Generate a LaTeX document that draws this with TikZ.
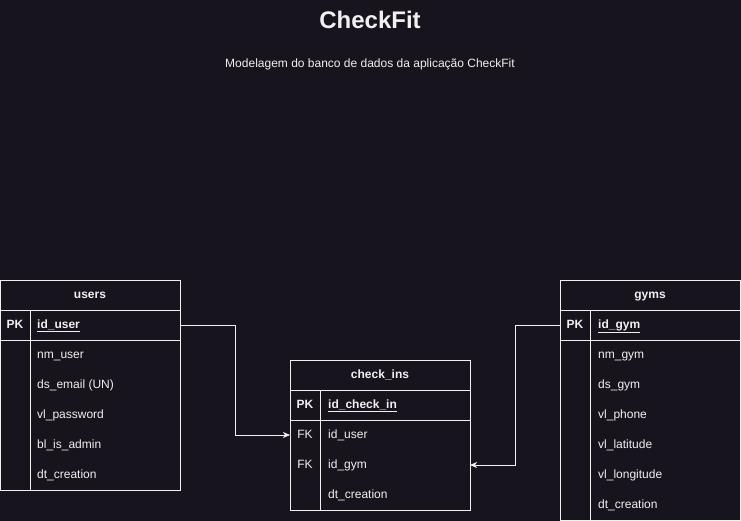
\documentclass[tikz,border=0pt]{standalone}
\usepackage{fontspec}
\setmainfont{Liberation Sans}
\usetikzlibrary{arrows.meta}
\definecolor{bg}{HTML}{18141D}
\definecolor{fg}{HTML}{F0F0F0}
\begin{document}
\begin{tikzpicture}[x=1pt,y=-1pt,
  every node/.style={text=fg, font=\fontsize{12}{14}\selectfont},
  line/.style={draw=fg, line width=1pt},
  tbl/.style={draw=fg, line width=1pt, minimum width=180pt, inner sep=0pt, outer sep=0pt, text height=8.6pt, text depth=2.4pt},
  rowbox/.style={draw=none, minimum width=180pt, minimum height=30pt, inner sep=0pt, outer sep=0pt},
  fld/.style={anchor=west, inner sep=0pt, text height=8.6pt, text depth=2.4pt},
  key/.style={inner sep=0pt, text height=8.6pt, text depth=2.4pt},
  conn/.style={draw=fg, line width=1pt, -{Stealth[length=7pt,width=6pt,inset=2pt]}}
]
\fill[bg] (0,0) rectangle (741,521);
\useasboundingbox (0,0) rectangle (741,521);

% title
\node[font=\bfseries\fontsize{24}{28}\selectfont] (title) at (370,20) {CheckFit};
\node[text height=8.6pt, text depth=2.4pt, inner sep=0pt] (subtitle) at (370,64) {Modelagem do banco de dados da aplicação CheckFit};

% users
\node[tbl, minimum height=30pt] (users-h) at (90,295) {\bfseries users};
\node[tbl, minimum height=30pt] (users-pk) at (90,325) {};
\node[tbl, minimum height=150pt] (users-b) at (90,415) {};
\draw[line] ([xshift=30pt]users-pk.north west) -- ([xshift=30pt]users-b.south west);
\node[key] (users-k) at (15,325) {\bfseries PK};
\node[fld] (users-f0) at (37,325) {\bfseries\underline{id\_user}};
\node[fld] (users-f1) at (37,355) {nm\_user};
\node[fld] (users-f2) at (37,385) {ds\_email (UN)};
\node[fld] (users-f3) at (37,415) {vl\_password};
\node[fld] (users-f4) at (37,445) {bl\_is\_admin};
\node[fld] (users-f5) at (37,475) {dt\_creation};

% check_ins
\node[tbl, minimum height=30pt] (ci-h) at (380,375) {\bfseries check\_ins};
\node[tbl, minimum height=30pt] (ci-pk) at (380,405) {};
\node[tbl, minimum height=90pt] (ci-b) at (380,465) {};
\draw[line] ([xshift=30pt]ci-pk.north west) -- ([xshift=30pt]ci-b.south west);
\node[rowbox] (ci-r1) at (380,435) {};
\node[rowbox] (ci-r2) at (380,465) {};
\node[key] (ci-k0) at (305,405) {\bfseries PK};
\node[key] (ci-k1) at (305,435) {FK};
\node[key] (ci-k2) at (305,465) {FK};
\node[fld] (ci-f0) at (328,405) {\bfseries\underline{id\_check\_in}};
\node[fld] (ci-f1) at (328,435) {id\_user};
\node[fld] (ci-f2) at (328,465) {id\_gym};
\node[fld] (ci-f3) at (328,495) {dt\_creation};

% gyms
\node[tbl, minimum height=30pt] (gyms-h) at (650,295) {\bfseries gyms};
\node[tbl, minimum height=30pt] (gyms-pk) at (650,325) {};
\node[tbl, minimum height=180pt] (gyms-b) at (650,430) {};
\draw[line] ([xshift=30pt]gyms-pk.north west) -- ([xshift=30pt]gyms-b.south west);
\node[key] (gyms-k) at (575,325) {\bfseries PK};
\node[fld] (gyms-f0) at (598,325) {\bfseries\underline{id\_gym}};
\node[fld] (gyms-f1) at (598,355) {nm\_gym};
\node[fld] (gyms-f2) at (598,385) {ds\_gym};
\node[fld] (gyms-f3) at (598,415) {vl\_phone};
\node[fld] (gyms-f4) at (598,445) {vl\_latitude};
\node[fld] (gyms-f5) at (598,475) {vl\_longitude};
\node[fld] (gyms-f6) at (598,505) {dt\_creation};

% connectors
\draw[conn] (users-pk.east) -- ++(55,0) |- (ci-r1.west);
\draw[conn] (gyms-pk.west) -- ++(-45,0) |- (ci-r2.east);
\end{tikzpicture}
\end{document}
